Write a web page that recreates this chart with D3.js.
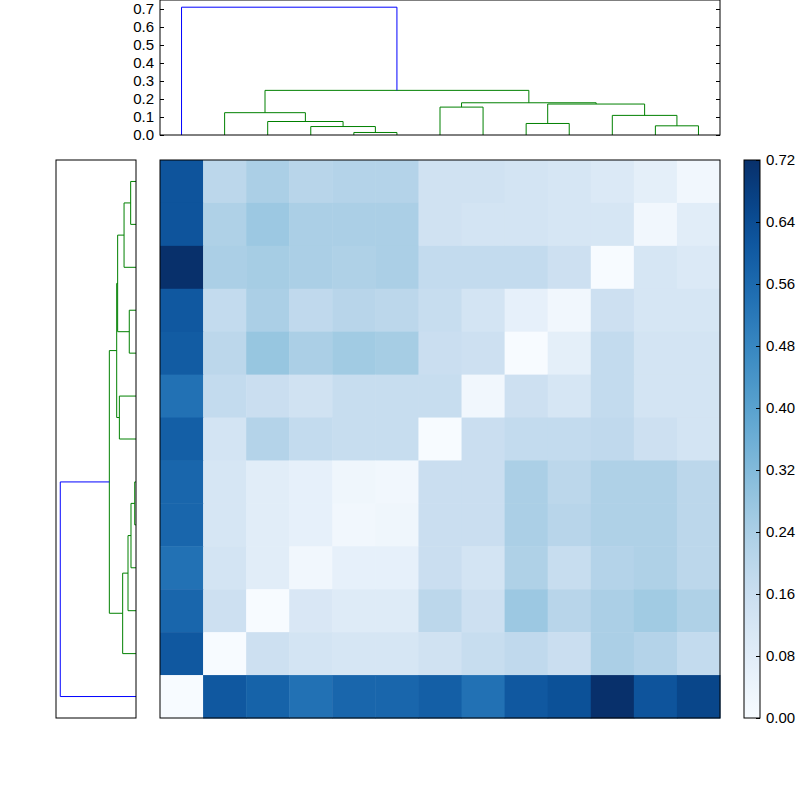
<!DOCTYPE html>
<html><head><meta charset="utf-8">
<script src="https://cdn.jsdelivr.net/npm/d3@7"></script>
<style>body{margin:0;background:#fff}svg{font-family:"DejaVu Sans",sans-serif}</style>
</head><body><div id="chart"></div>
<script>
// heatmap values, rows top to bottom
var values = [
  [0.62,0.20,0.24,0.21,0.22,0.22,0.14,0.14,0.13,0.12,0.10,0.07,0.02],
  [0.62,0.23,0.27,0.24,0.24,0.24,0.14,0.13,0.13,0.12,0.12,0.02,0.08],
  [0.72,0.24,0.25,0.24,0.23,0.24,0.18,0.18,0.18,0.15,0.00,0.12,0.10],
  [0.61,0.18,0.24,0.19,0.21,0.20,0.17,0.13,0.06,0.02,0.15,0.12,0.12],
  [0.60,0.20,0.28,0.24,0.26,0.25,0.16,0.15,0.00,0.07,0.18,0.13,0.13],
  [0.54,0.18,0.16,0.14,0.17,0.17,0.17,0.02,0.15,0.12,0.18,0.13,0.13],
  [0.59,0.13,0.22,0.18,0.17,0.17,0.00,0.16,0.18,0.18,0.19,0.15,0.13],
  [0.57,0.12,0.08,0.06,0.03,0.02,0.16,0.16,0.24,0.20,0.23,0.23,0.20],
  [0.57,0.12,0.08,0.06,0.02,0.03,0.16,0.16,0.24,0.21,0.23,0.23,0.20],
  [0.54,0.13,0.08,0.02,0.06,0.06,0.16,0.13,0.23,0.17,0.22,0.23,0.20],
  [0.57,0.15,0.00,0.11,0.09,0.09,0.20,0.15,0.27,0.21,0.24,0.26,0.23],
  [0.61,0.00,0.15,0.13,0.12,0.12,0.14,0.17,0.19,0.16,0.24,0.22,0.18],
  [0.00,0.61,0.58,0.54,0.57,0.57,0.59,0.54,0.61,0.63,0.72,0.62,0.66]
];
var colorTicks = [0,0.08,0.16,0.24,0.32,0.40,0.48,0.56,0.64,0.72];
var dendroTicks = [0,0.1,0.2,0.3,0.4,0.5,0.6,0.7];

// dendrogram links: [left pos, right pos, left child height, right child height, height, colour]
// positions in leaf units (leaf i at 5+10i)
var topLinks = [
  [45,55,0,0,0.014,"g"],[35,50,0,0.014,0.047,"g"],[25,42.5,0,0.047,0.075,"g"],
  [15,33.75,0,0.075,0.124,"g"],[65,75,0,0,0.155,"g"],[85,95,0,0,0.064,"g"],
  [115,125,0,0,0.051,"g"],[105,120,0,0.051,0.109,"g"],[90,112.5,0.064,0.109,0.172,"g"],
  [70,101.25,0.155,0.172,0.179,"g"],[24.375,85.625,0.124,0.179,0.248,"g"],[5,55,0,0.248,0.71,"b"]
];
var leftLinks = [
  [5,15,0,0,0.050,"g"],[10,25,0.050,0,0.112,"g"],[35,45,0,0,0.063,"g"],
  [17.5,40,0.112,0.063,0.172,"g"],[55,65,0,0,0.156,"g"],[28.75,60,0.172,0.156,0.181,"g"],
  [75,85,0,0,0.012,"g"],[80,95,0.012,0,0.047,"g"],[87.5,105,0.047,0,0.075,"g"],
  [96.25,115,0.075,0,0.125,"g"],[44.4,105.6,0.181,0.125,0.25,"g"],[75,125,0.25,0,0.71,"b"]
];
var linkColor = {g:"#008000", b:"#0000ff"};

var svg = d3.select("#chart").append("svg").attr("width",800).attr("height",800);
var color = d3.scaleSequential(d3.interpolateBlues).domain([0,0.72]);

// heatmap
var hx = d3.scaleBand().domain(d3.range(13)).range([160,720]);
var hy = d3.scaleBand().domain(d3.range(13)).range([160,718]);
values.forEach(function(row,r){
  svg.selectAll(null).data(row).enter().append("rect")
    .attr("x",function(d,c){return hx(c);}).attr("y",hy(r))
    .attr("width",hx.bandwidth()+0.5).attr("height",hy.bandwidth()+0.5)
    .attr("fill",function(d){return color(d);});
});
svg.append("rect").attr("x",160).attr("y",160).attr("width",560).attr("height",558)
  .attr("fill","none").attr("stroke","#000");

// top dendrogram
var tx = d3.scaleLinear().domain([0,130]).range([160,720]);
var ty = d3.scaleLinear().domain([0,0.75]).range([135,0]);
svg.selectAll(null).data(topLinks).enter().append("path")
  .attr("fill","none").attr("stroke",function(d){return linkColor[d[5]];})
  .attr("d",function(d){
    return "M"+tx(d[0])+","+ty(d[2])+"V"+ty(d[4])+"H"+tx(d[1])+"V"+ty(d[3]);
  });
svg.append("rect").attr("x",160).attr("y",0).attr("width",560).attr("height",135)
  .attr("fill","none").attr("stroke","#000");
svg.append("g").attr("transform","translate(160,0)")
  .call(d3.axisLeft(ty).tickValues(dendroTicks).tickFormat(d3.format(".1f")).tickSizeInner(-4).tickSizeOuter(0).tickPadding(6))
  .call(function(g){g.select(".domain").remove();g.selectAll("text").attr("font-size",15).attr("fill","#000");});
svg.append("g").attr("transform","translate(720,0)")
  .call(d3.axisRight(ty).tickValues(dendroTicks).tickFormat("").tickSizeInner(-4).tickSizeOuter(0))
  .call(function(g){g.select(".domain").remove();});

// left dendrogram
var lx = d3.scaleLinear().domain([0,0.75]).range([136,56]);
var ly = d3.scaleLinear().domain([0,130]).range([160,718]);
svg.selectAll(null).data(leftLinks).enter().append("path")
  .attr("fill","none").attr("stroke",function(d){return linkColor[d[5]];})
  .attr("d",function(d){
    return "M"+lx(d[2])+","+ly(d[0])+"H"+lx(d[4])+"V"+ly(d[1])+"H"+lx(d[3]);
  });
svg.append("rect").attr("x",56).attr("y",160).attr("width",80).attr("height",558)
  .attr("fill","none").attr("stroke","#000");

// colorbar
var cy = d3.scaleLinear().domain([0,0.72]).range([718,160]);
var grad = svg.append("defs").append("linearGradient").attr("id","cb")
  .attr("x1",0).attr("y1",1).attr("x2",0).attr("y2",0);
grad.selectAll("stop").data(d3.range(0,1.01,0.05)).enter().append("stop")
  .attr("offset",function(d){return d;}).attr("stop-color",function(d){return color(d*0.72);});
svg.append("rect").attr("x",744).attr("y",160).attr("width",16).attr("height",558)
  .attr("fill","url(#cb)").attr("stroke","#000");
svg.append("g").attr("transform","translate(760,0)")
  .call(d3.axisRight(cy).tickValues(colorTicks).tickFormat(d3.format(".2f")).tickSizeInner(-4).tickSizeOuter(0).tickPadding(6))
  .call(function(g){g.select(".domain").remove();g.selectAll("text").attr("font-size",15).attr("fill","#000");});
</script></body></html>
